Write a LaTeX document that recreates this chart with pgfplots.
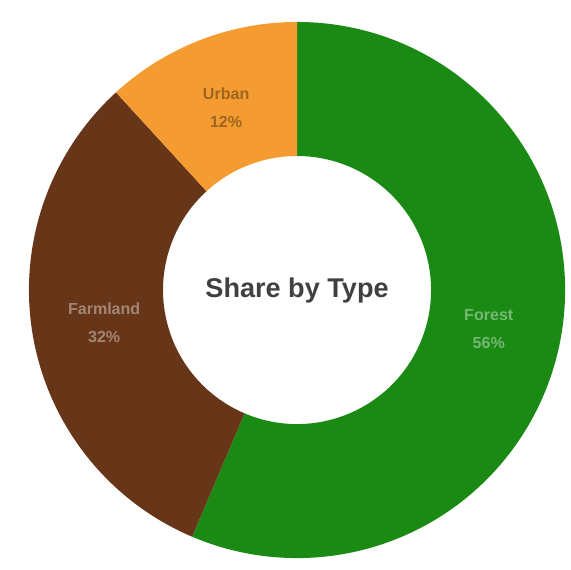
\documentclass[border=0pt]{standalone}
\usepackage{pgfplots}
\usepackage{pgfplotstable}
\pgfplotsset{compat=1.18}
\usepackage{fontspec}
\setmainfont{Liberation Sans}
\definecolor{cgreen}{RGB}{26,138,20}
\definecolor{cbrown}{RGB}{103,53,24}
\definecolor{corange}{RGB}{244,156,50}
\pgfplotstableread{
label value
Forest 56.4
Farmland 31.8
Urban 11.8
}\data
\begin{document}
\begin{tikzpicture}
\pgfplotstablegetelem{0}{value}\of\data \let\vA\pgfplotsretval
\pgfplotstablegetelem{1}{value}\of\data \let\vB\pgfplotsretval
\pgfplotstablegetelem{2}{value}\of\data \let\vC\pgfplotsretval
\pgfmathsetmacro\tot{\vA+\vB+\vC}
\pgfmathsetmacro\sA{90}
\pgfmathsetmacro\eA{\sA-3.6*(\vA/\tot)*100}
\pgfmathsetmacro\eB{\eA-3.6*(\vB/\tot)*100}
\pgfmathsetmacro\eC{\eB-3.6*(\vC/\tot)*100}
\pgfmathsetmacro\mA{(\sA+\eA)/2}
\pgfmathsetmacro\mB{(\eA+\eB)/2}
\pgfmathsetmacro\mC{(\eB+\eC)/2}
\pgfmathtruncatemacro\pA{round(\vA)}
\pgfmathtruncatemacro\pB{round(\vB)}
\pgfmathtruncatemacro\pC{round(\vC)}
\begin{axis}[
  width=10cm, height=9.877cm, scale only axis,
  xmin=-1.108, xmax=1.022, ymin=-1.022, ymax=1.082,
  axis line style={draw=none}, ticks=none, clip=false,
]
\fill[cgreen] (axis cs:{cos(\sA)},{sin(\sA)}) arc[start angle=\sA, end angle=\eA, radius=1]
  -- (axis cs:{0.5*cos(\eA)},{0.5*sin(\eA)}) arc[start angle=\eA, end angle=\sA, radius=0.5] -- cycle;
\fill[cbrown] (axis cs:{cos(\eA)},{sin(\eA)}) arc[start angle=\eA, end angle=\eB, radius=1]
  -- (axis cs:{0.5*cos(\eB)},{0.5*sin(\eB)}) arc[start angle=\eB, end angle=\eA, radius=0.5] -- cycle;
\fill[corange] (axis cs:{cos(\eB)},{sin(\eB)}) arc[start angle=\eB, end angle=\eC, radius=1]
  -- (axis cs:{0.5*cos(\eC)},{0.5*sin(\eC)}) arc[start angle=\eC, end angle=\eB, radius=0.5] -- cycle;
\node[align=center, font=\bfseries\fontsize{8}{14}\selectfont, text=white, text opacity=0.4]
  at (axis cs:{0.73*cos(\mA)},{0.73*sin(\mA)}) {Forest\\\pA\%};
\node[align=center, font=\bfseries\fontsize{8}{14}\selectfont, text=white, text opacity=0.4]
  at (axis cs:{0.73*cos(\mB)},{0.73*sin(\mB)}) {Farmland\\\pB\%};
\node[align=center, font=\bfseries\fontsize{8}{14}\selectfont, text=black, text opacity=0.35]
  at (axis cs:{0.73*cos(\mC)},{0.73*sin(\mC)}) {Urban\\\pC\%};
\node[font=\bfseries\fontsize{13.5}{16}\selectfont, text=black!75] at (axis cs:0,0) {Share by Type};
\end{axis}
\end{tikzpicture}
\end{document}
